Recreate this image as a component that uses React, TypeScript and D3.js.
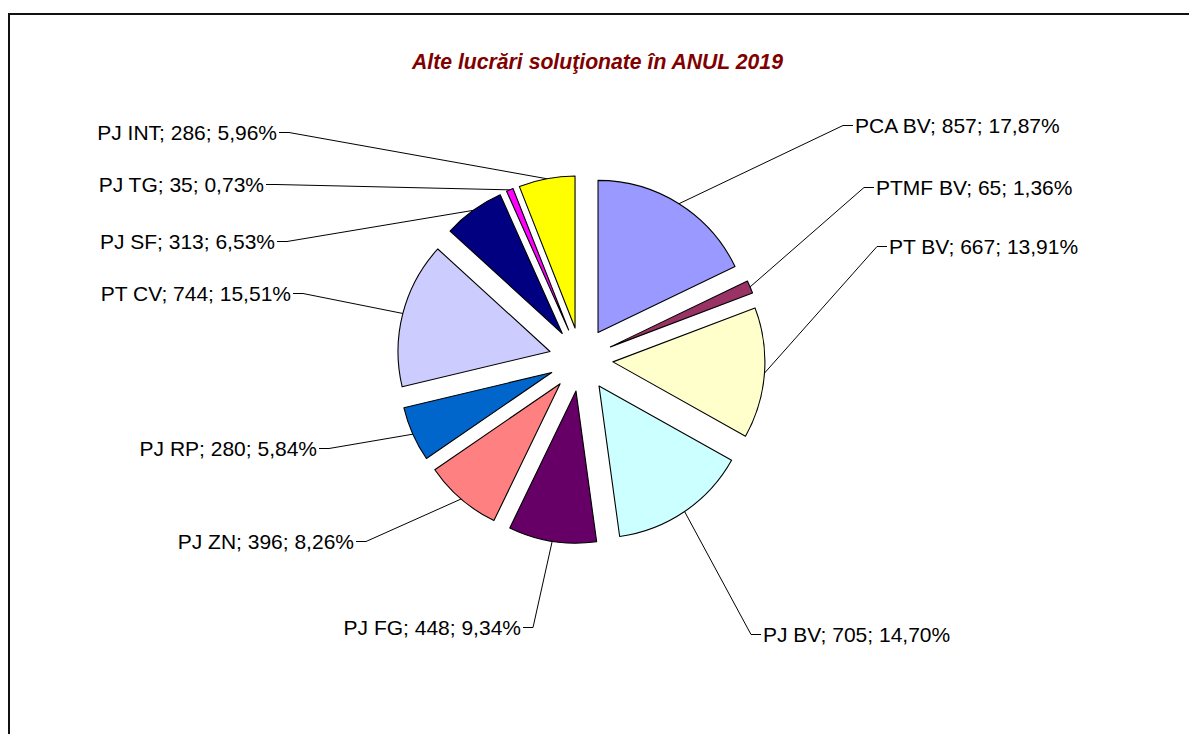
import React, { useEffect, useRef } from 'react';
import * as d3 from 'd3';

// date
const categories = ['PCA BV', 'PTMF BV', 'PT BV', 'PJ BV', 'PJ FG', 'PJ ZN', 'PJ RP', 'PT CV', 'PJ SF', 'PJ TG', 'PJ INT'];
const values = [857, 65, 667, 705, 448, 396, 280, 744, 313, 35, 286];
const percents = ['17,87%', '1,36%', '13,91%', '14,70%', '9,34%', '8,26%', '5,84%', '15,51%', '6,53%', '0,73%', '5,96%'];
const colors = ['#9999FF', '#993366', '#FFFFCC', '#CCFFFF', '#660066', '#FF8080', '#0066CC', '#CCCCFF', '#000080', '#FF00FF', '#FFFF00'];

// pozitiile etichetelor (mutate de mana in Excel) - fata de centrul pie-ului
const labelOffsets: [number, number][] = [
  [274, -234], [295, -172], [308, -113], [182, 275],
  [-60, 268], [-227, 182], [-264, 89], [-290, -66],
  [-306, -118], [-317, -175], [-304, -227],
];

const W = 1189;
const H = 734;
const cx = 581;
const cy = 359.5;
const R = 152;
const EXPLODE = 32;
const FONT = '"Liberation Sans", Arial, sans-serif';

const App = () => {
  const svgRef = useRef<SVGSVGElement>(null);

  useEffect(() => {
    const svg = d3.select(svgRef.current);
    svg.selectAll('*').remove();

    // cadrul
    svg.append('rect')
      .attr('x', 9).attr('y', 14)
      .attr('width', W + 20).attr('height', H + 20)
      .attr('fill', 'none')
      .attr('stroke', '#111')
      .attr('stroke-width', 2);

    svg.append('text')
      .attr('x', 597.5).attr('y', 69)
      .attr('text-anchor', 'middle')
      .attr('font-family', FONT)
      .attr('font-size', '21.2px')
      .attr('font-weight', 'bold')
      .attr('font-style', 'italic')
      .attr('fill', '#800000')
      .text('Alte lucrări soluţionate în ANUL 2019');

    const pie = d3.pie<number>().sort(null).value(d => d);
    const arcs = pie(values);
    const arc = d3.arc<d3.PieArcDatum<number>>().innerRadius(0).outerRadius(R);

    const g = svg.append('g').attr('transform', `translate(${cx},${cy})`);

    const shift = (d: d3.PieArcDatum<number>) => {
      const a = (d.startAngle + d.endAngle) / 2;
      return [Math.sin(a) * EXPLODE, -Math.cos(a) * EXPLODE];
    };

    // felii
    g.selectAll('path.slice')
      .data(arcs)
      .enter()
      .append('path')
      .attr('class', 'slice')
      .attr('transform', d => { const [dx, dy] = shift(d); return `translate(${dx},${dy})`; })
      .attr('d', arc)
      .attr('fill', (d, i) => colors[i])
      .attr('stroke', '#000')
      .attr('stroke-width', 1.1)
      .attr('stroke-linejoin', 'round');

    // linii de legatura
    g.selectAll('path.leader')
      .data(arcs)
      .enter()
      .append('path')
      .attr('class', 'leader')
      .attr('d', (d, i) => {
        const a = (d.startAngle + d.endAngle) / 2;
        const [dx, dy] = shift(d);
        const x0 = dx + Math.sin(a) * R;
        const y0 = dy - Math.cos(a) * R;
        const [lx, ly] = labelOffsets[i];
        const right = i < 4;
        const ex = right ? lx - 12 : lx + 12;
        const tx = right ? lx - 2 : lx + 2;
        return `M${x0},${y0}L${ex},${ly}L${tx},${ly}`;
      })
      .attr('fill', 'none')
      .attr('stroke', '#000')
      .attr('stroke-width', 1);

    // etichete
    g.selectAll('text.lbl')
      .data(arcs)
      .enter()
      .append('text')
      .attr('class', 'lbl')
      .attr('x', (d, i) => labelOffsets[i][0])
      .attr('y', (d, i) => labelOffsets[i][1] + 7.5)
      .attr('text-anchor', (d, i) => (i < 4 ? 'start' : 'end'))
      .attr('font-family', FONT)
      .attr('font-size', '21px')
      .attr('fill', '#000')
      .text((d, i) => `${categories[i]}; ${values[i]}; ${percents[i]}`);
  }, []);

  return (
    <div style={{ position: 'fixed', left: 0, top: 0, width: W, height: H, background: '#fff' }}>
      <svg ref={svgRef} width={W} height={H} style={{ display: 'block' }}></svg>
    </div>
  );
};

export default App;
